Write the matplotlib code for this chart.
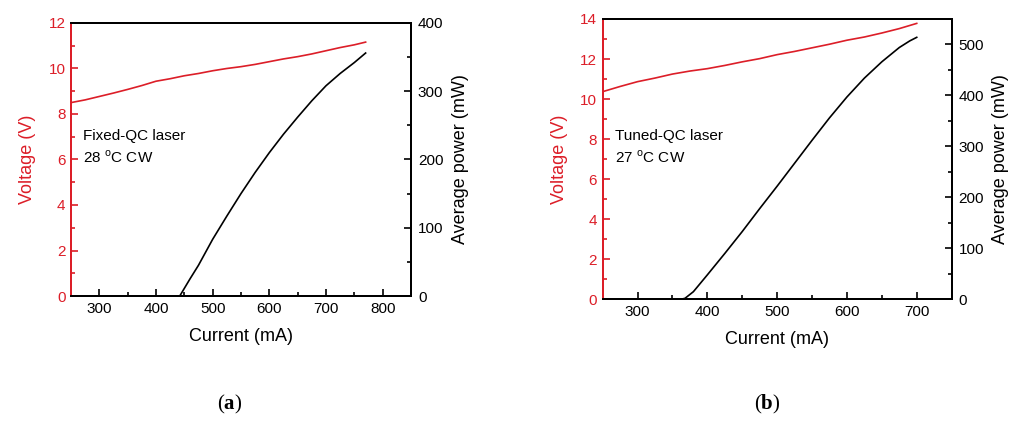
import matplotlib
matplotlib.use("Agg")
import matplotlib.pyplot as plt
from matplotlib.ticker import MultipleLocator

plt.rcParams['font.family'] = ['Liberation Sans', 'DejaVu Sans']
plt.rcParams['font.size'] = 11
plt.rcParams['mathtext.fontset'] = 'custom'
plt.rcParams['mathtext.rm'] = 'Liberation Sans'
plt.rcParams['mathtext.bf'] = 'Liberation Serif:bold'

RED = '#dc1e28'

# (a) Fixed-QC laser, 28 C CW
cur_v_a = [250, 275, 300, 325, 350, 375, 400, 425, 450, 475, 500, 525, 550,
           575, 600, 625, 650, 675, 700, 725, 750, 770]
volt_a = [8.5, 8.62, 8.77, 8.92, 9.08, 9.25, 9.44, 9.55, 9.68, 9.78, 9.9, 10.0,
          10.08, 10.18, 10.3, 10.42, 10.52, 10.64, 10.78, 10.92, 11.04, 11.16]
cur_p_a = [442, 460, 475, 500, 525, 550, 575, 600, 625, 650, 675, 700, 725, 750, 770]
power_a = [0, 25, 45, 83, 117, 150, 181, 210, 237, 262, 286, 308, 326, 342, 356]

# (b) Tuned-QC laser, 27 C CW
cur_v_b = [250, 275, 300, 325, 350, 375, 400, 425, 450, 475, 500, 525, 550,
           575, 600, 625, 650, 675, 700]
volt_b = [10.37, 10.63, 10.87, 11.05, 11.25, 11.4, 11.52, 11.68, 11.86, 12.02,
          12.22, 12.38, 12.56, 12.74, 12.94, 13.1, 13.3, 13.52, 13.78]
cur_p_b = [250, 362, 368, 380, 400, 425, 450, 475, 500, 525, 550, 575, 600, 625,
           650, 675, 690, 700]
power_b = [0, 0, 2, 15, 48, 90, 133, 178, 222, 267, 312, 356, 397, 434, 466,
           494, 507, 514]

fig = plt.figure(figsize=(10.18, 4.21), dpi=100)


def panel(rect, cv, v, cp, p, xlim, vmax, pmax, label, tx, ty):
    ax = fig.add_axes(rect)
    ax.plot(cv, v, color=RED, lw=1.2)
    ax.set_xlim(*xlim)
    ax.set_ylim(0, vmax)
    ax.xaxis.set_major_locator(MultipleLocator(100))
    ax.xaxis.set_minor_locator(MultipleLocator(50))
    ax.yaxis.set_major_locator(MultipleLocator(2))
    ax.yaxis.set_minor_locator(MultipleLocator(1))
    ax.tick_params(which='both', direction='in', top=False)
    ax.tick_params(which='major', length=5, width=1.2, pad=4)
    ax.tick_params(which='minor', length=3, width=1.2)
    ax.tick_params(axis='y', which='both', colors=RED)
    ax.spines['left'].set_color(RED)
    for s in ax.spines.values():
        s.set_linewidth(1.4)
    ax.set_ylabel('Voltage (V)', color=RED, fontsize=13, labelpad=9)
    ax.set_xlabel('Current (mA)', fontsize=13, labelpad=9)
    ax.text(tx, ty, label, ha='left', va='center', linespacing=1.4)

    ax2 = ax.twinx()
    ax2.plot(cp, p, color='black', lw=1.2)
    ax2.set_ylim(0, pmax)
    ax2.yaxis.set_major_locator(MultipleLocator(100))
    ax2.yaxis.set_minor_locator(MultipleLocator(50))
    ax2.tick_params(which='both', direction='in')
    ax2.tick_params(which='major', length=5, width=1.2, pad=5)
    ax2.tick_params(which='minor', length=3, width=1.2)
    ax2.spines['left'].set_color(RED)
    for s in ax2.spines.values():
        s.set_linewidth(1.4)
    ax2.set_ylabel('Average power (mW)', fontsize=13, labelpad=6)
    return ax, ax2


panel([0.0697, 0.2969, 0.334, 0.6485], cur_v_a, volt_a, cur_p_a, power_a,
      (250, 850), 12, 400, 'Fixed-QC laser\n28 $^{\\rm o}$C CW', 272, 6.53)
panel([0.592, 0.289, 0.3428, 0.6659], cur_v_b, volt_b, cur_p_b, power_b,
      (250, 750), 14, 550, 'Tuned-QC laser\n27 $^{\\rm o}$C CW', 268, 7.58)

fig.text(0.226, 0.012, r'($\mathbf{a}$)', ha='center', va='bottom',
         fontsize=15, family='Liberation Serif')
fig.text(0.754, 0.012, r'($\mathbf{b}$)', ha='center', va='bottom',
         fontsize=15, family='Liberation Serif')

fig.savefig('out.png', dpi=100)
